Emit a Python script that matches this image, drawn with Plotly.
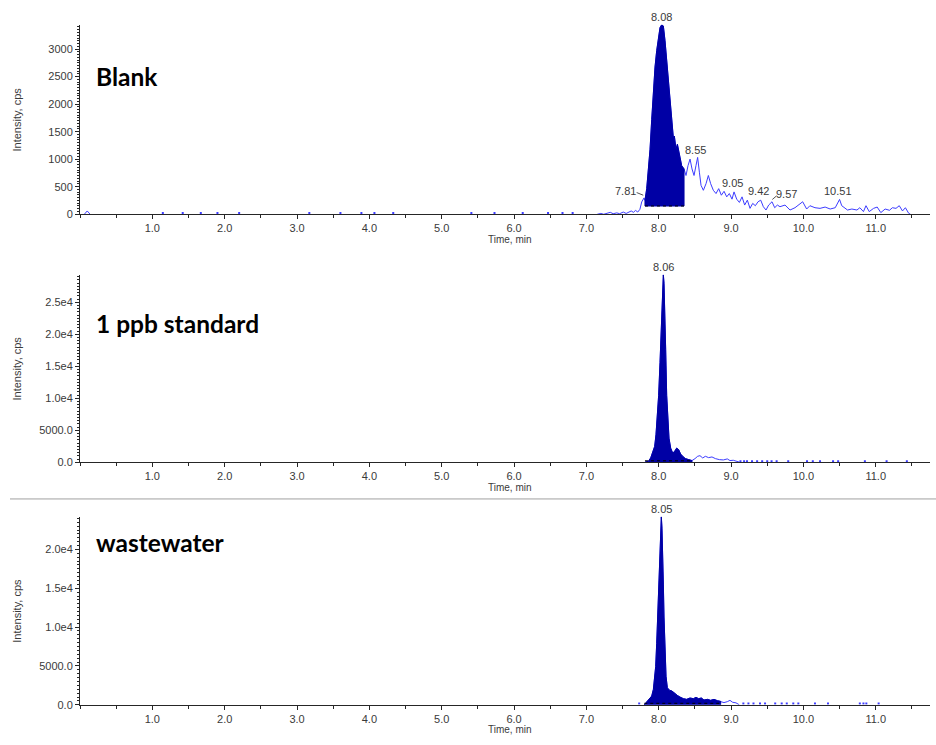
import plotly.graph_objects as go

# ---------------- data ----------------
# Blank chromatogram: retention time (min) and intensity (cps)
blank_t = [0.06, 0.10, 0.14, None, 7.15, 7.20, 7.24, 7.30, 7.33, 7.37, 7.42, 7.46, 7.51, 7.55,
           7.59, 7.62, 7.65, 7.68, 7.71, 7.74, 7.765, 7.797, 7.81, 7.834, 7.857, 7.88, 7.903,
           7.926, 7.949, 7.972, 7.995, 8.018, 8.041, 8.064, 8.087, 8.11, 8.133, 8.156, 8.179,
           8.202, 8.216, 8.239, 8.258, 8.285, 8.317, 8.35, 8.377, 8.405, 8.433, 8.46, 8.488,
           8.515, 8.538, 8.562, 8.585, 8.617, 8.654, 8.686, 8.718, 8.755, 8.792, 8.829, 8.866,
           8.903, 8.94, 8.976, 9.013, 9.041, 9.078, 9.115, 9.152, 9.188, 9.225, 9.262, 9.299,
           9.336, 9.373, 9.41, 9.446, 9.483, 9.52, 9.566, 9.603, 9.64, 9.676, 9.746, 9.815,
           9.884, 9.944, 9.99, 10.045, 10.09, 10.16, 10.23, 10.30, 10.37, 10.44, 10.50, 10.53,
           10.56, 10.61, 10.67, 10.74, 10.78, 10.83, 10.865, 10.91, 10.97, 11.02, 11.07, 11.13,
           11.19, 11.23, 11.28, 11.325, 11.37, 11.41, 11.455, 11.48]
blank_i = [0, 60, 0, None, 0, 15, 0, 20, 35, 10, 25, 10, 40, 15,
           45, 60, 35, 70, 40, 90, 224, 297, 250, 465, 823, 1181, 1718,
           2255, 2673, 2971, 3210, 3389, 3440, 3419, 3150, 2792, 2494, 2136, 1718,
           1390, 1420, 1181, 1271, 1062, 883, 823, 704, 883, 1002, 823, 704,
           883, 1032, 764, 525, 435, 555, 704, 555, 435, 376, 465, 346,
           417, 316, 376, 274, 406, 274, 215, 316, 167, 256, 107, 197,
           155, 227, 256, 137, 77, 167, 227, 119, 167, 137, 167, 77,
           119, 179, 227, 95, 155, 119, 107, 131, 95, 119, 269, 155,
           119, 77, 95, 77, 119, 48, 155, 48, 107, 131, 30, 95,
           72, 119, 107, 155, 60, 119, 18, 0]
blank_dot_t = [1.145, 1.42, 1.67, 1.90, 2.20, 3.17, 3.60, 3.89, 4.07, 4.33, 5.41, 5.73,
               6.12, 6.47, 6.67, 6.81]
blank_dot_i = [25] * len(blank_dot_t)
blank_fill = [7.81, 8.35, 150]          # integrated peak start, end, baseline
blank_labels = ["8.08", "7.81", "8.55", "9.05", "9.42", "9.57", "10.51"]
blank_label_t = [8.041, 7.544, 8.515, 9.023, 9.386, 9.76, 10.48]
blank_label_i = [3440, 417, 1169, 567, 417, 376, 417]

# 1 ppb standard
std_t = [7.81, 7.857, 7.889, 7.916, 7.944, 7.962, 7.981, 7.999, 8.018, 8.036, 8.05, 8.064,
         8.073, 8.082, 8.096, 8.11, 8.124, 8.142, 8.165, 8.193, 8.22, 8.248, 8.276, 8.303,
         8.331, 8.368, 8.414, 8.46, 8.502, 8.538, 8.57, 8.608, 8.645, 8.69, 8.736, 8.783,
         8.838, 8.893, 8.948, 8.985, 9.03, 9.078, 9.12]
std_i = [0, 155, 670, 1440, 2470, 4280, 6850, 10460, 15610, 21800, 26440, 29300,
         27980, 24630, 17670, 10460, 6340, 3760, 2210, 1440, 1700, 2210, 1960, 1280,
         930, 570, 410, 260, 570, 930, 1030, 670, 930, 720, 830, 570,
         410, 360, 520, 260, 310, 100, 0]
std_dot_t = [9.13, 9.18, 9.22, 9.29, 9.36, 9.43, 9.50, 9.56, 9.63, 9.79, 10.05, 10.13,
             10.23, 10.41, 10.48, 10.85, 11.15, 11.43]
std_dot_i = [150] * len(std_dot_t)
std_fill = [7.81, 8.46, 0]
std_labels = ["8.06"]
std_label_t = [8.064]
std_label_i = [29300]

# wastewater
ww_t = [7.80, 7.833, 7.87, 7.903, 7.926, 7.944, 7.958, 7.972, 7.985, 7.999, 8.013, 8.027,
        8.036, 8.045, 8.055, 8.064, 8.073, 8.087, 8.101, 8.119, 8.147, 8.184, 8.22, 8.257,
        8.294, 8.34, 8.386, 8.432, 8.479, 8.515, 8.552, 8.589, 8.626, 8.672, 8.718, 8.764,
        8.81, 8.856, 8.902, 8.948, 8.985, 9.022, 9.068, 9.114]
ww_i = [0, 400, 700, 1120, 1970, 3240, 4940, 7910, 11730, 15960, 20200, 23600,
        24200, 22740, 19780, 15540, 11300, 7060, 3670, 2190, 1880, 1760, 1460, 1210,
        990, 790, 700, 870, 790, 950, 790, 870, 610, 700, 570, 700,
        530, 450, 280, 400, 570, 320, 250, 0]
ww_dot_t = [7.73, 9.17, 9.24, 9.31, 9.40, 9.47, 9.61, 9.70, 9.77, 9.86, 9.93, 10.16,
            10.34, 10.78, 10.83, 10.87, 11.04]
ww_dot_i = [150] * len(ww_dot_t)
ww_fill = [7.80, 8.86, 0]
ww_labels = ["8.05"]
ww_label_t = [8.036]
ww_label_i = [24200]

panel_titles = ["Blank", "1 ppb standard", "wastewater"]
x_tick_vals = [1, 2, 3, 4, 5, 6, 7, 8, 9, 10, 11]
x_tick_text = ["1.0", "2.0", "3.0", "4.0", "5.0", "6.0", "7.0", "8.0", "9.0", "10.0", "11.0"]
blank_ytick_vals = [0, 500, 1000, 1500, 2000, 2500, 3000]
blank_ytick_text = ["0", "500", "1000", "1500", "2000", "2500", "3000"]
std_ytick_vals = [0, 5000, 10000, 15000, 20000, 25000]
std_ytick_text = ["0.0", "5000.0", "1.0e4", "1.5e4", "2.0e4", "2.5e4"]
ww_ytick_vals = [0, 5000, 10000, 15000, 20000]
ww_ytick_text = ["0.0", "5000.0", "1.0e4", "1.5e4", "2.0e4"]

# ---------------- figure ----------------
W, H = 936, 745
LINE = "rgb(60,60,255)"
FILL = "rgb(0,0,165)"
TXT = "#3a3a3a"
AX = "#262626"
TICKFONT = dict(family="Liberation Sans, Arial, sans-serif", size=11, color=TXT)


def py(p):
    return 1 - p / H


panels = [
    dict(t=blank_t, i=blank_i, dt=blank_dot_t, di=blank_dot_i, fill=blank_fill,
         lab=blank_labels, lt=blank_label_t, li=blank_label_i,
         yv=blank_ytick_vals, ytx=blank_ytick_text, ymax=3440, minor=50,
         top=25, bot=216, title_y=77, base_dot=None),
    dict(t=std_t, i=std_i, dt=std_dot_t, di=std_dot_i, fill=std_fill,
         lab=std_labels, lt=std_label_t, li=std_label_i,
         yv=std_ytick_vals, ytx=std_ytick_text, ymax=29300, minor=500,
         top=277, bot=466, title_y=326, base_dot=230),
    dict(t=ww_t, i=ww_i, dt=ww_dot_t, di=ww_dot_i, fill=ww_fill,
         lab=ww_labels, lt=ww_label_t, li=ww_label_i,
         yv=ww_ytick_vals, ytx=ww_ytick_text, ymax=24200, minor=500,
         top=521, bot=710.5, title_y=547, base_dot=190),
]

fig = go.Figure()
annotations = []
shapes = []
layout = {}

for k, p in enumerate(panels):
    n = "" if k == 0 else str(k + 1)
    xa, ya = "x" + n, "y" + n
    # full trace
    fig.add_trace(go.Scatter(x=p["t"], y=p["i"], xaxis=xa, yaxis=ya, mode="lines",
                             line=dict(color=LINE, width=1), connectgaps=False,
                             hoverinfo="skip"))
    # integrated (filled) peak
    s, e, b = p["fill"]
    seg = [(t, v) for t, v in zip(p["t"], p["i"]) if t is not None and s <= t <= e]
    fx = [q[0] for q in seg] + [seg[-1][0], seg[0][0], seg[0][0]]
    fy = [q[1] for q in seg] + [b, b, seg[0][1]]
    fig.add_trace(go.Scatter(x=fx, y=fy, xaxis=xa, yaxis=ya, mode="lines", fill="toself",
                             fillcolor=FILL, line=dict(color=FILL, width=1), hoverinfo="skip"))
    # dotted baseline of integration
    bl = b if p["base_dot"] is None else p["base_dot"]
    fig.add_trace(go.Scatter(x=[seg[0][0], seg[-1][0]], y=[bl, bl], xaxis=xa, yaxis=ya,
                             mode="lines", line=dict(color="black", width=1, dash="dot"),
                             hoverinfo="skip"))
    # low-level noise points on the baseline
    fig.add_trace(go.Scatter(x=p["dt"], y=p["di"], xaxis=xa, yaxis=ya, mode="markers",
                             marker=dict(color=LINE, size=2, symbol="square"),
                             hoverinfo="skip"))

    dom_y = [py(p["bot"]), py(p["top"])]
    layout["xaxis" + n] = dict(
        domain=[80 / W, 930 / W], range=[0, 11.75], anchor=ya,
        showline=True, linecolor=AX, linewidth=1, showgrid=False, zeroline=False,
        ticks="outside", ticklen=4, tickcolor=AX, tickmode="array",
        tickvals=x_tick_vals, ticktext=x_tick_text, tickfont=TICKFONT,
        minor=dict(dtick=0.5, tick0=0, ticks="outside", ticklen=3, tickcolor=AX),
    )
    layout["yaxis" + n] = dict(
        domain=dom_y, range=[0, p["ymax"]], anchor=xa,
        showline=True, linecolor=AX, linewidth=1, showgrid=False, zeroline=False,
        ticks="outside", ticklen=4, tickcolor=AX, tickmode="array",
        tickvals=p["yv"], ticktext=p["ytx"], tickfont=TICKFONT,
        minor=dict(dtick=p["minor"], tick0=0, ticks="outside", ticklen=2, tickcolor=AX),
    )
    # peak labels
    for txt, lt, li in zip(p["lab"], p["lt"], p["li"]):
        top_label = (li == p["ymax"])
        annotations.append(dict(x=lt, y=li, xref=xa, yref=ya, text=txt, showarrow=False,
                                xanchor="center", yanchor="bottom" if top_label else "middle",
                                yshift=0, font=dict(family="Liberation Sans, Arial", size=11,
                                                       color=TXT)))
    # panel title
    annotations.append(dict(x=94 / W, y=py(p["title_y"]), xref="paper", yref="paper",
                            text="<b>" + panel_titles[k] + "</b>", showarrow=False,
                            xanchor="left", yanchor="middle",
                            font=dict(family="Lato, Open Sans, sans-serif", size=24.5,
                                      color="black")))
    # axis titles
    annotations.append(dict(x=17 / W, y=py((p["top"] + p["bot"]) / 2), xref="paper",
                            yref="paper", text="Intensity, cps", showarrow=False,
                            textangle=-90, xanchor="center", yanchor="middle",
                            font=dict(family="Liberation Sans, Arial", size=11, color=TXT)))
    annotations.append(dict(x=510 / W, y=py(p["bot"] + 25), xref="paper", yref="paper",
                            text="Time, min", showarrow=False, xanchor="center",
                            yanchor="middle",
                            font=dict(family="Liberation Sans, Arial", size=10, color=TXT)))

# leader ticks for the small blank labels
shapes.append(dict(type="line", xref="x", yref="y", x0=7.695, y0=394, x1=7.786, y1=346,
                   line=dict(color="#555", width=1)))
shapes.append(dict(type="line", xref="x", yref="y", x0=9.57, y0=268, x1=9.63, y1=335,
                   line=dict(color="#555", width=1)))
# separator between middle and lower panel
shapes.append(dict(type="line", xref="paper", yref="paper", x0=10 / W, x1=1, y0=py(503),
                   y1=py(503), line=dict(color="#a0a0a0", width=1)))

fig.update_layout(
    width=W, height=H, margin=dict(l=0, r=0, t=0, b=0),
    paper_bgcolor="white", plot_bgcolor="white", showlegend=False,
    annotations=annotations, shapes=shapes, **layout,
)

fig.write_html("out.html")
